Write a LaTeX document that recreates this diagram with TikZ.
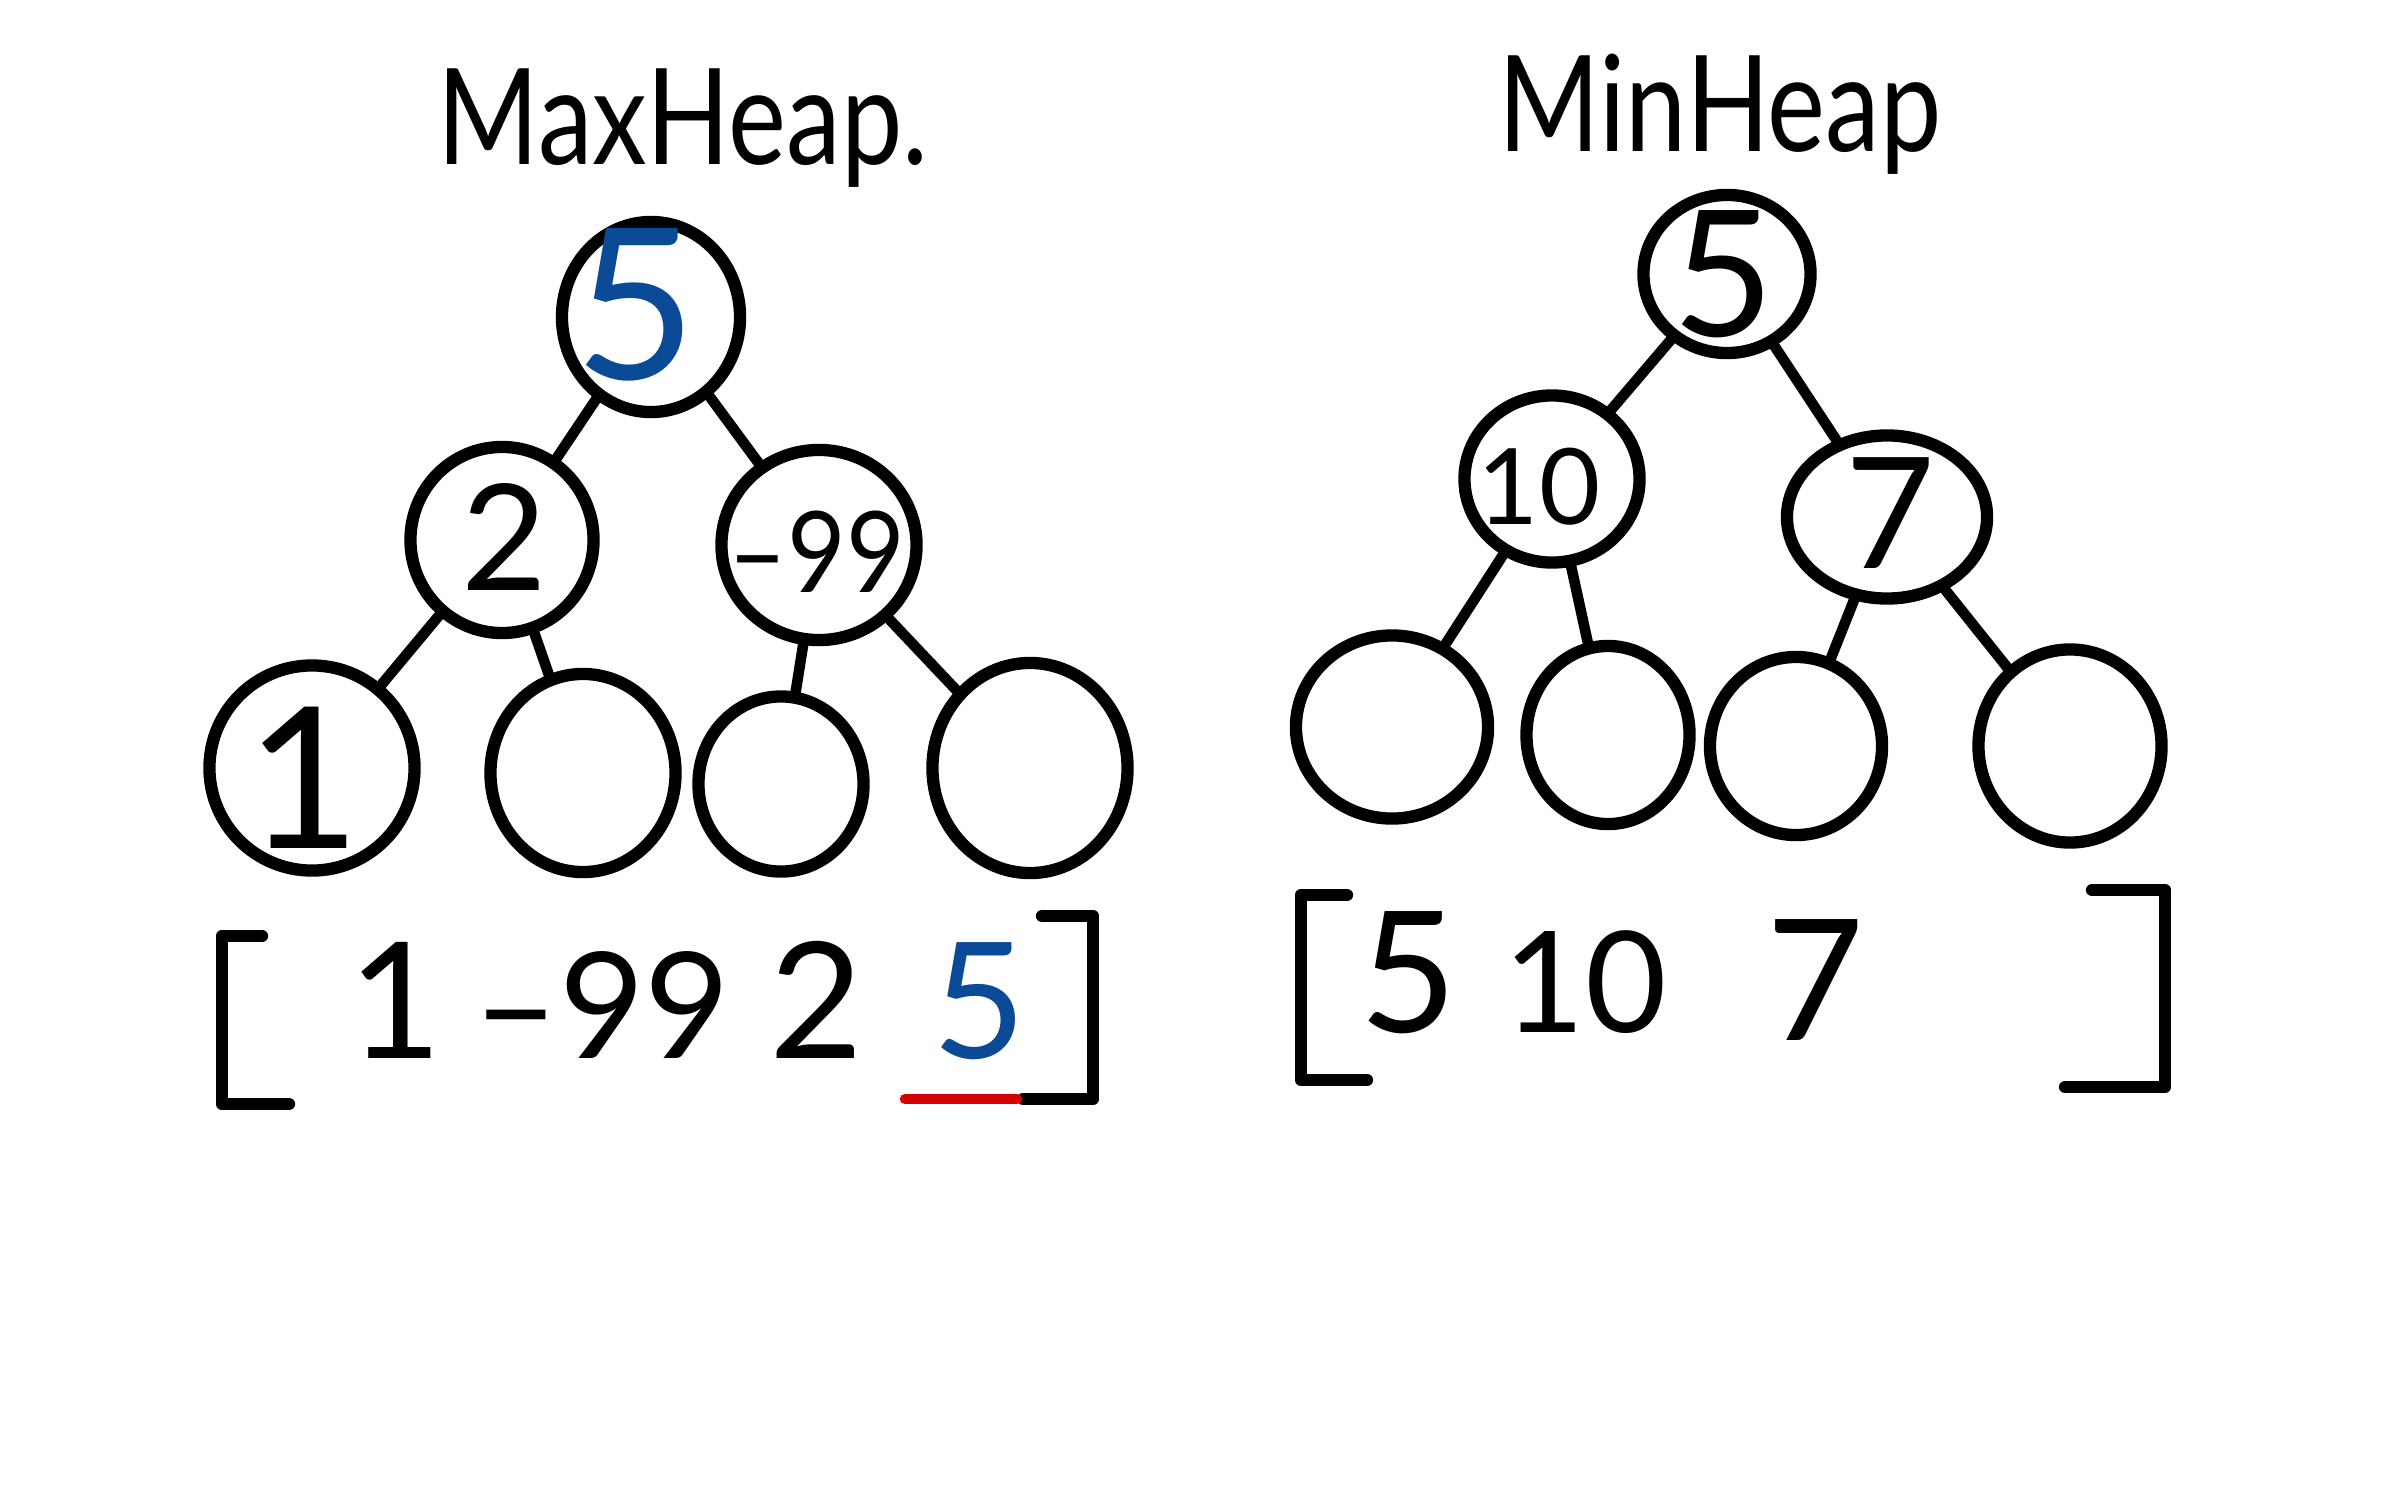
\documentclass[tikz,border=0pt]{standalone}
\usepackage{fontspec}
\setmainfont{Lato}
\usetikzlibrary{shapes.geometric}
\definecolor{inkblue}{HTML}{0B4A96}
\definecolor{inkred}{HTML}{D40000}
\begin{document}
\begin{tikzpicture}[x=0.01cm,y=-0.01cm, line cap=round, line join=round,
  hnode/.style={draw, ellipse, line width=3.5pt, inner sep=0pt},
  link/.style={line width=3pt},
  brk/.style={line width=3.5pt},
  title/.style={font=\fontsize{38pt}{44pt}\selectfont, xscale=0.82, anchor=base},
  val/.style={font=\fontsize{#1}{#1}\selectfont, inner sep=0pt},
  arr/.style={font=\fontsize{46pt}{50pt}\selectfont, anchor=base, inner sep=0pt}]
\useasboundingbox (0,0) rectangle (2386,1491);

% titles
\node[title] (tmax) at (683,164) {MaxHeap.};
\node[title] (tmin) at (1720,152) {MinHeap};

% ---------- Max heap ----------
\node[hnode, minimum width=1.78cm, minimum height=1.90cm] (mr)  at (651,317) {};
\node[hnode, minimum width=1.83cm, minimum height=1.86cm] (m2)  at (502,540) {};
\node[hnode, minimum width=1.95cm, minimum height=1.90cm] (m99) at (819,545) {};
\node[hnode, minimum width=2.05cm, minimum height=2.05cm] (ml1) at (312,768) {};
\node[hnode, minimum width=1.85cm, minimum height=1.98cm] (ml2) at (583,773) {};
\node[hnode, minimum width=1.65cm, minimum height=1.75cm] (ml3) at (781,784) {};
\node[hnode, minimum width=1.95cm, minimum height=2.10cm] (ml4) at (1030,768) {};

\node[val=60pt, text=inkblue] (vmr) at (636,305) {5};
\node[val=42pt] (vm2) at (504,537) {2};
\node[val=32pt, xscale=0.9] (vm99) at (817,552) {–99};
\node[val=56pt] (vml1) at (304,778) {1};

\draw[link] (mr) -- (m2);
\draw[link] (mr) -- (m99);
\draw[link] (m2) -- (ml1);
\draw[link] (m2) -- (ml2);
\draw[link] (m99) -- (ml3);
\draw[link] (m99) -- (ml4);

% max array
\draw[brk] (262,936) -- (222,936) -- (222,1104) -- (289,1104);
\draw[brk] (1042,916) -- (1093,916) -- (1093,1099) -- (1023,1099);
\node[arr] (a1)  at (395,1058) {1};
\node[arr, font=\fontsize{42pt}{46pt}\selectfont] (a99) at (602,1058) {–99};
\node[arr] (a2)  at (816,1058) {2};
\node[arr, text=inkblue] (a5) at (979,1058) {5};
\coordinate (ru1) at (905,1099);
\coordinate (ru2) at (1017,1099);
\draw[inkred, line width=3pt] (ru1) -- (ru2);

% ---------- Min heap ----------
\node[hnode, minimum width=1.67cm, minimum height=1.58cm] (nr)  at (1727,274) {};
\node[hnode, minimum width=1.75cm, minimum height=1.67cm] (n10) at (1552,479) {};
\node[hnode, minimum width=2.00cm, minimum height=1.63cm] (n7)  at (1887,517) {};
\node[hnode, minimum width=1.92cm, minimum height=1.83cm] (nl1) at (1392,727) {};
\node[hnode, minimum width=1.63cm, minimum height=1.78cm] (nl2) at (1608,735) {};
\node[hnode, minimum width=1.72cm, minimum height=1.78cm] (nl3) at (1796,746) {};
\node[hnode, minimum width=1.83cm, minimum height=1.93cm] (nl4) at (2070,746) {};

\node[val=50pt] (vnr) at (1723,274) {5};
\node[val=30pt] (vn10) at (1539,487) {10};
\node[val=44pt] (vn7) at (1890,513) {7};

\draw[link] (nr) -- (n10);
\draw[link] (nr) -- (n7);
\draw[link] (n10) -- (nl1);
\draw[link] (n10) -- (nl2);
\draw[link] (n7) -- (nl3);
\draw[link] (n7) -- (nl4);

% min array
\draw[brk] (1347,895) -- (1301,895) -- (1301,1080) -- (1367,1080);
\draw[brk] (2092,890) -- (2165,890) -- (2165,1087) -- (2065,1087);
\node[arr, font=\fontsize{48pt}{52pt}\selectfont] (b5)  at (1408,1032) {5};
\node[arr, font=\fontsize{40pt}{44pt}\selectfont] (b10) at (1585,1032) {10};
\node[arr, font=\fontsize{48pt}{52pt}\selectfont] (b7)  at (1815,1040) {7};
\end{tikzpicture}
\end{document}
